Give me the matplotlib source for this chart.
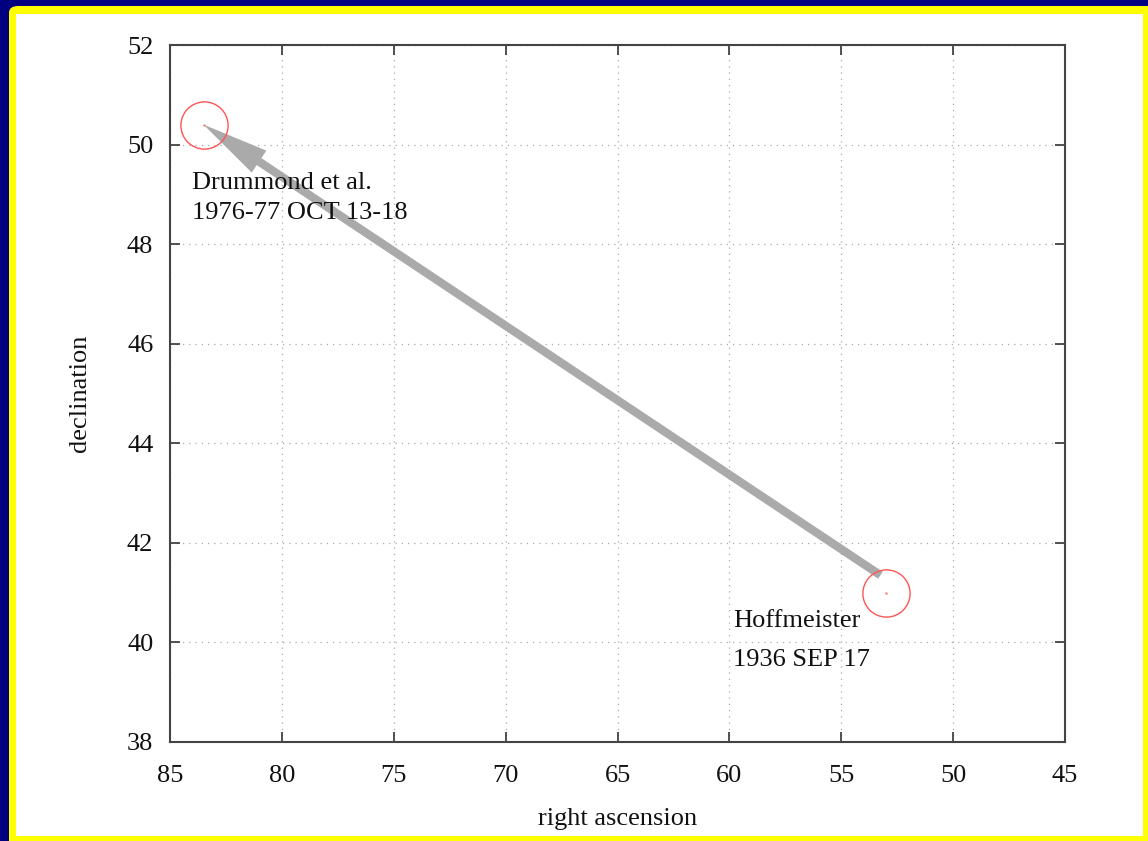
import matplotlib.pyplot as plt
from matplotlib.patches import FancyBboxPatch

# pole positions (right ascension, declination)
ra = [83.5, 53.0]
dec = [50.4, 41.0]
drummond = ["Drummond et al.", "1976-77 OCT 13-18"]
hoffmeister = ["Hoffmeister", "1936 SEP 17"]
arrow_start = (53.25, 41.35)

xticks = [85, 80, 75, 70, 65, 60, 55, 50, 45]
yticks = [38, 40, 42, 44, 46, 48, 50, 52]

plt.rcParams['font.family'] = ['Liberation Serif', 'DejaVu Serif']

fig = plt.figure(figsize=(11.48, 8.41), dpi=100, facecolor='#000080')
W, H = 1148, 841
# yellow frame with white panel
fig.add_artist(FancyBboxPatch((9 / W, -0.05), 1.1, (835 / H) + 0.05,
                              boxstyle='round,pad=0,rounding_size=0.008',
                              transform=fig.transFigure, facecolor='#ffff00',
                              edgecolor='none', zorder=0))
fig.add_artist(FancyBboxPatch((16 / W, 5 / H), (1143 - 16) / W, (827 - 5) / H,
                              boxstyle='square,pad=0',
                              transform=fig.transFigure, facecolor='white',
                              edgecolor='none', zorder=0))

ax = fig.add_axes([170 / W, 99 / H, 895 / W, 697 / H])
ax.set_facecolor('none')
ax.set_xlim(85, 45)
ax.set_ylim(38, 52)
ax.set_xticks(xticks)
ax.set_yticks(yticks)
ax.tick_params(direction='in', length=7, width=1.2, color='#333333',
               top=True, right=True, labelsize=19, labelcolor='#111111')
ax.tick_params(axis='x', pad=16.5)
ax.tick_params(axis='y', pad=12)
for s in ax.spines.values():
    s.set_color('#444444')
    s.set_linewidth(1.5)
ax.grid(True, linestyle=(0, (1, 4)), color='#aaaaaa', linewidth=0.9)

ax.set_xlabel('right ascension', fontsize=19, labelpad=15.5, color='#111111')
ax.set_ylabel('declination', fontsize=19, labelpad=26, color='#111111')

ax.plot(ra, dec, 'o', markersize=34, markerfacecolor='none',
        markeredgecolor='#ff5555', markeredgewidth=1.0, zorder=4)
ax.plot(ra, dec, '.', markersize=1.5, color='#ff7777', zorder=4)

ax.annotate('', xy=(ra[0], dec[0]), xytext=arrow_start,
            arrowprops=dict(arrowstyle='simple,head_length=4.8,head_width=1.9,tail_width=0.6',
                            mutation_scale=10, facecolor='#aaaaaa',
                            edgecolor='none', shrinkA=0, shrinkB=0), zorder=3)

ax.text(84.0, 49.23, drummond[0], fontsize=19, va='center', ha='left', color='#111111')
ax.text(84.0, 48.63, drummond[1], fontsize=19, va='center', ha='left', color='#111111')
ax.text(59.85, 40.44, hoffmeister[0], fontsize=19, va='center', ha='left', color='#111111')
ax.text(59.85, 39.64, hoffmeister[1], fontsize=19, va='center', ha='left', color='#111111')

fig.savefig('out.png', dpi=100, facecolor=fig.get_facecolor())
